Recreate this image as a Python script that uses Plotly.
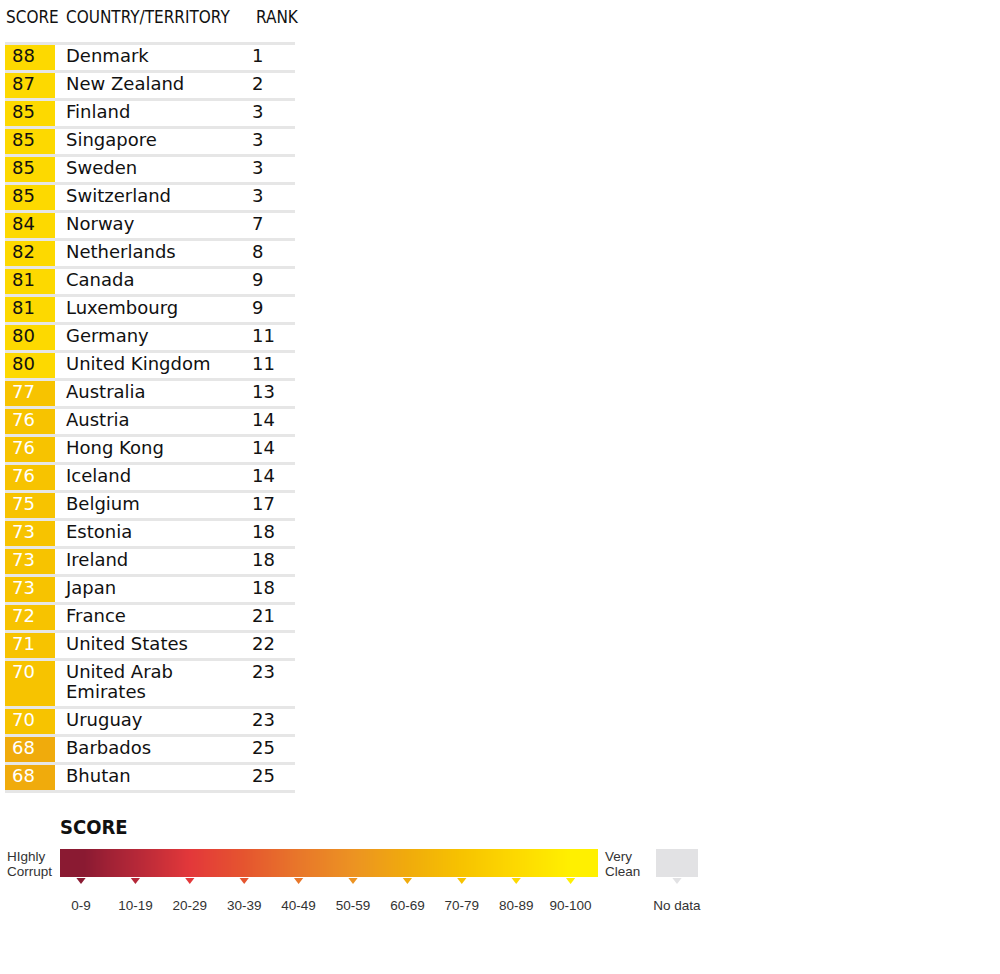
import plotly.graph_objects as go

# table data
countries = ["Denmark", "New Zealand", "Finland", "Singapore", "Sweden", "Switzerland",
             "Norway", "Netherlands", "Canada", "Luxembourg", "Germany", "United Kingdom",
             "Australia", "Austria", "Hong Kong", "Iceland", "Belgium", "Estonia",
             "Ireland", "Japan", "France", "United States", "United Arab<br>Emirates",
             "Uruguay", "Barbados", "Bhutan"]
scores = [88, 87, 85, 85, 85, 85, 84, 82, 81, 81, 80, 80, 77, 76, 76, 76, 75, 73,
          73, 73, 72, 71, 70, 70, 68, 68]
ranks = [1, 2, 3, 3, 3, 3, 7, 8, 9, 9, 11, 11, 13, 14, 14, 14, 17, 18, 18, 18, 21,
         22, 23, 23, 25, 25]
headers = ["SCORE", "COUNTRY/TERRITORY", "RANK"]

# legend bands
band_labels = ["0-9", "10-19", "20-29", "30-39", "40-49", "50-59", "60-69",
               "70-79", "80-89", "90-100"]
band_colors = ["#8a1a32", "#b52838", "#e3383a", "#e5552f", "#e8772a", "#ec9322",
               "#f0ab0c", "#f7c300", "#fdd900", "#fff000"]
nodata_color = "#e2e2e4"

BODY = "DejaVu Sans"
NARROW = "DejaVu Sans Condensed, sans-serif"
SMALL = "Liberation Sans, Arial, sans-serif"


def band_color(s):
    return band_colors[min(s // 10, 9)]


# the axes run in page pixels, rows are laid out from the top
row_top0 = 42
line_h = 28
extra_line = 20
tops, heights = [], []
y = row_top0
for name in countries:
    n = name.count("<br>") + 1
    h = line_h + extra_line * (n - 1)
    tops.append(y)
    heights.append(h)
    y += h
table_bottom = y

# one text point per line of a country name
name_y, name_txt = [], []
for t, name in zip(tops, countries):
    for k, part in enumerate(name.split("<br>")):
        name_y.append(t + 15 + extra_line * k)
        name_txt.append(part)

fig = go.Figure()

# score cells
fig.add_trace(go.Bar(
    x=[30] * len(scores), y=[h - 3 for h in heights], base=[t + 3 for t in tops],
    width=50, marker=dict(color=[band_color(s) for s in scores], line_width=0),
    hoverinfo="skip"))

# row separators
for t in tops + [table_bottom]:
    fig.add_shape(type="line", xref="x", yref="y", x0=5, x1=295, y0=t + 1.5, y1=t + 1.5,
                  line=dict(color="#e6e6e6", width=3))

fig.add_trace(go.Scatter(
    x=[6, 66, 256], y=[19, 19, 19], mode="text", text=headers,
    textposition="middle right", textfont=dict(family=NARROW, size=17, color="#111111"),
    hoverinfo="skip"))

fig.add_trace(go.Scatter(
    x=[12] * len(scores), y=[t + 15 for t in tops], mode="text",
    text=[str(s) for s in scores], textposition="middle right",
    textfont=dict(family=BODY, size=18,
                  color=["#111111" if s >= 80 else "#ffffff" for s in scores]),
    hoverinfo="skip"))

fig.add_trace(go.Scatter(
    x=[66] * len(name_txt), y=name_y, mode="text", text=name_txt,
    textposition="middle right",
    textfont=dict(family=BODY, size=18, color="#111111"), hoverinfo="skip"))

fig.add_trace(go.Scatter(
    x=[252] * len(ranks), y=[t + 15 for t in tops], mode="text",
    text=[str(r) for r in ranks], textposition="middle right",
    textfont=dict(family=BODY, size=18, color="#111111"), hoverinfo="skip"))

# legend
mx = [81 + 54.4 * i for i in range(len(band_labels))]
edges = [60] + [(a + b) / 2 for a, b in zip(mx[:-1], mx[1:])] + [598]
fig.add_trace(go.Heatmap(
    x=edges, y=[849, 863, 877], z=[list(range(10)), list(range(10))],
    zmin=0, zmax=9, zsmooth="best", showscale=False, hoverinfo="skip",
    colorscale=[[i / 9, c] for i, c in enumerate(band_colors)]))

fig.add_trace(go.Bar(
    x=[677], y=[28], base=[849], width=42, marker=dict(color=nodata_color, line_width=0),
    hoverinfo="skip"))

fig.add_trace(go.Scatter(
    x=mx + [677], y=[880] * 11, mode="markers",
    marker=dict(symbol="triangle-down", size=8, color=band_colors + [nodata_color]),
    hoverinfo="skip"))

fig.add_trace(go.Scatter(
    x=mx + [677], y=[907] * 11, mode="text", text=band_labels + ["No data"],
    textposition="middle center", textfont=dict(family=SMALL, size=13.5, color="#333333"),
    hoverinfo="skip"))

fig.add_trace(go.Scatter(
    x=[7, 7, 605, 605], y=[858, 873, 858, 873], mode="text",
    text=["HIghly", "Corrupt", "Very", "Clean"], textposition="middle right",
    textfont=dict(family=SMALL, size=13.5, color="#333333"), hoverinfo="skip"))

fig.add_trace(go.Scatter(
    x=[60], y=[829], mode="text", text=["<b>SCORE</b>"], textposition="middle right",
    textfont=dict(family=NARROW, size=20, color="#111111"), hoverinfo="skip"))

fig.update_layout(
    width=1000, height=974, margin=dict(l=0, r=0, t=0, b=0),
    paper_bgcolor="white", plot_bgcolor="white", showlegend=False, barmode="overlay",
    xaxis=dict(range=[0, 1000], visible=False, fixedrange=True),
    yaxis=dict(range=[974, 0], visible=False, fixedrange=True))

fig.write_html("out.html", config={"displayModeBar": False},
               post_script="document.body.style.margin = '0';")
